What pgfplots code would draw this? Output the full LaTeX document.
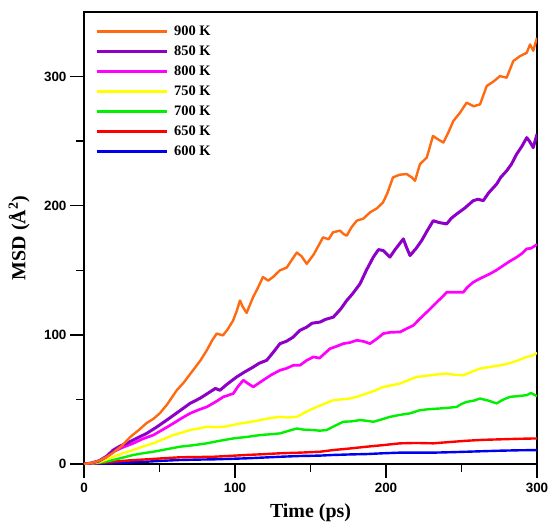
\documentclass[border=0pt]{standalone}
\usepackage{fontspec}
\setmainfont{Liberation Serif}
\newfontfamily\arialfont{Liberation Sans}
\usepackage{pgfplots}
\pgfplotsset{compat=1.18}
\definecolor{cOrange}{HTML}{FF6A10}
\definecolor{cPurple}{HTML}{8E00C8}
\definecolor{cMagenta}{HTML}{FF00FF}
\definecolor{cYellow}{HTML}{FFFF00}
\definecolor{cGreen}{HTML}{00F000}
\definecolor{cRed}{HTML}{FF0000}
\definecolor{cBlue}{HTML}{0000F0}
\begin{document}
\begin{tikzpicture}
\begin{axis}[
  width=453bp, height=452bp, scale only axis,
  xmin=0, xmax=300, ymin=0, ymax=350,
  xtick={0,100,200,300}, ytick={0,100,200,300},
  minor x tick num=1, minor y tick num=1,
  tick align=outside, xtick pos=bottom, ytick pos=left,
  major tick length=14bp, minor tick length=8bp,
  every tick/.style={black, line width=1.4bp},
  axis line style={line width=1.4bp},
  /pgf/number format/assume math mode=true,
  tick label style={font=\arialfont\bfseries\fontsize{13.5}{14}\selectfont},
  xticklabel style={yshift=-2bp},
  xlabel={\bfseries Time (ps)},
  ylabel={\bfseries MSD (Å$^{\mathbf{2}}$)},
  label style={font=\fontsize{20}{22}\selectfont},
  xlabel style={at={(axis description cs:0.5,0)}, anchor=south, yshift=-61bp},
  ylabel style={at={(axis description cs:-0.143,0.5)}, anchor=center, rotate=0},
  legend style={at={(axis description cs:0,1)}, anchor=north west, draw=none, fill=none,
    xshift=8bp, yshift=-11bp,
    font=\bfseries\fontsize{14.5}{15}\selectfont,
    row sep=7bp, column sep=6bp,
    nodes={inner sep=0pt, text height=10bp, text depth=3bp}},
  legend cell align=left,
  legend image code/.code={\draw[#1] (0bp,0bp) -- (70bp,0bp);},
  reverse legend,
  every axis plot/.append style={line width=2.4bp, line join=round},
]
\addplot[cBlue] coordinates {(0,0) (10,0.2) (19.4,0.5) (30,1.2) (41.5,1.8) (52,2.5) (63.6,3.1) (75,3.4) (85.6,3.6) (97,4) (107.7,4.4) (119,5) (129.8,5.6) (143,6.2) (156.3,6.5) (165.1,7) (176,7.4) (187.2,7.7) (198,8.3) (209.3,8.8) (220,8.8) (231.3,8.8) (242,9.1) (253.4,9.5) (264,9.9) (275.5,10.3) (287,10.6) (300,10.8)};
\addlegendentry{600 K}
\addplot[cRed] coordinates {(0,0) (10,0.6) (19.4,1.8) (30,2.8) (41.5,3.6) (52,4.4) (63.6,5.2) (75,5.4) (85.6,5.6) (97,6.3) (107.7,7) (119,7.6) (129.8,8.3) (143,8.8) (156.3,9.5) (165.1,10.8) (176,12) (187.2,13.4) (198,14.6) (209.3,16) (220,16.3) (231.3,16) (242,17) (253.4,18) (264,18.7) (275.5,19.1) (287,19.5) (300,19.8)};
\addlegendentry{650 K}
\addplot[cGreen] coordinates {(0,0) (5,0.3) (10,1) (15,2) (19.4,3.1) (26,5) (32.6,7) (39,8.3) (45.9,9.5) (55,11.5) (63.6,13.4) (72,14.5) (81.3,16) (90,18) (98.9,19.8) (108,21) (116.6,22.4) (123,23) (129.8,23.7) (135,25.5) (140.9,27.5) (146,26.5) (151.9,26.3) (156,25.8) (160.7,26.3) (166,29.5) (171.7,32.7) (177,33) (182.8,34) (187,33.5) (191.6,32.7) (197,34.5) (202.6,36.5) (209,38) (215.9,39.2) (222.5,41.7) (229,42.5) (235.8,43) (241,43.5) (246.8,44.2) (250,46.5) (253.4,48.1) (258,49) (262.3,50.7) (268,49) (273.3,46.9) (277,49.5) (282.1,52) (287,52.5) (293.2,53.3) (296,55) (300,52.5)};
\addlegendentry{700 K}
\addplot[cYellow] coordinates {(0,0) (5,0.4) (10,1.5) (15,3.5) (19.4,5.6) (26,8.5) (32.6,10.8) (39,13.5) (45.9,16) (52,19) (59.1,22.4) (64,24) (70.2,26.3) (76,27.5) (81.3,28.8) (87,28.5) (92.3,28.8) (98,30) (103.3,31.4) (110,32.5) (116.6,34) (123,35.5) (129.8,36.5) (135,36) (140.9,36.5) (143,37.8) (148,41) (154.1,44.2) (160,47) (165.1,49.4) (170,50) (176.2,50.7) (182,52.5) (187.2,54.6) (193,57) (198.2,59.7) (204,61) (209.3,62.3) (215,65) (220.3,67.4) (225,68) (229.1,68.7) (235,69.5) (240.2,70) (246,69) (251.2,68.7) (257,71.5) (262.3,73.9) (268,75) (275.5,76.4) (280,77.5) (284.3,79) (289,81) (293.2,82.9) (297,84) (300,86)};
\addlegendentry{750 K}
\addplot[cMagenta, line width=2.7bp] coordinates {(0,0) (5,0.6) (10,2.2) (15,5.5) (19.4,9.5) (26,13) (32.6,16) (39,19.5) (45.9,22.4) (52,26.5) (59.1,31.4) (64,35) (70.2,39.2) (76,42) (81.3,44.2) (87,48) (92.3,52) (95,53) (98.9,54.6) (102,60) (105.5,64.9) (109,62) (112.1,59.7) (115,62) (118.7,64.9) (124,69) (129.8,72.6) (134,74) (138.6,76.4) (143,76.4) (147.5,80.3) (151.9,82.9) (156,82) (162.9,89.3) (167,91) (171.7,93.2) (176,94) (180.6,95.8) (185,95) (189.4,93.2) (194,97) (198.2,101) (203,102) (209.3,102.2) (214,105) (218.1,107.3) (222,112) (227,117.6) (230,121) (233.6,125.3) (237,129) (240.2,133) (245,133) (251.2,133) (254,137) (257.8,140.8) (263,144) (268.9,147.3) (273,150) (277.7,153.7) (282,157) (286.5,160.1) (290,163) (293.2,166.6) (296,167) (300,170)};
\addlegendentry{800 K}
\addplot[cPurple, line width=3bp] coordinates {(0,0) (5,0.8) (10,2.5) (15,6) (19.4,10.8) (24,14) (28.3,16) (35,20) (41.5,23.7) (48,28.5) (54.8,34) (62,40) (70.2,46.9) (77,51) (83.4,55.8) (87,58.5) (90,57.1) (95,62) (101.1,67.4) (106,71) (112.1,75.1) (116,78) (121,80.3) (125,86) (129.8,93.2) (134,95) (138.6,98.3) (143,103.5) (147.5,106) (151,109) (156.3,109.9) (160,112) (165.1,113.7) (170,120) (174,126.6) (178,132) (182.8,139.5) (187,150) (191.6,160.2) (195,166) (198.2,165.3) (202.6,160.2) (206,166) (211.5,174.3) (213.5,168) (215.9,161.4) (220,167) (223.6,173) (227,180) (231.3,188.4) (235,187) (240.2,185.9) (243,190) (246.8,193.6) (252,198) (257.8,203.9) (261,205) (264.4,203.9) (268,210) (273.3,216.8) (276,222) (279.9,227) (283,232) (286.5,239.9) (290,246) (293.2,252.7) (295,250) (297.5,245) (300,255.4)};
\addlegendentry{850 K}
\addplot[cOrange] coordinates {(0,0) (5,0.8) (10,2.5) (15,5.5) (19,8.5) (25,14) (30.5,20.8) (36,26) (41.5,31.7) (46,35) (50.3,39.4) (55,46) (61.4,57.1) (66,63) (72.2,72.6) (77,80) (81.3,88) (85,96) (87.9,101) (92,99.6) (95,104) (98.7,111) (101,118) (103.3,126.6) (105,122) (107.7,117) (111.9,129) (115,136) (118.5,144.8) (122,142) (125.2,144.8) (129.8,150) (134.2,152) (137,157) (140.9,163.7) (144,161) (147.5,155) (152,162) (158.3,175.5) (162,174) (164.9,179.4) (169.5,180.7) (172,178) (174,176.8) (177,183) (180.6,188.4) (185,190) (189.4,194.8) (194,198) (198,202.5) (201,210) (204.6,221.9) (209,224) (213.7,224.5) (217,222) (219.2,219.3) (222.5,232.2) (227,237.3) (231.1,254) (235,251) (238,248.9) (241,256) (244.6,265.6) (249,272) (253.4,279.8) (258,277) (262.3,278.5) (266.7,292.7) (271,296) (275.5,300.4) (279.9,299.1) (284.3,312) (288.7,315.8) (293.2,318.4) (295.4,324.9) (297.5,320) (300,330)};
\addlegendentry{900 K}
\end{axis}
\pgfresetboundingbox
\path[use as bounding box] ([shift={(-84bp,-63bp)}]current axis.south west) rectangle ([shift={(13bp,12bp)}]current axis.north east);
\end{tikzpicture}
\end{document}
